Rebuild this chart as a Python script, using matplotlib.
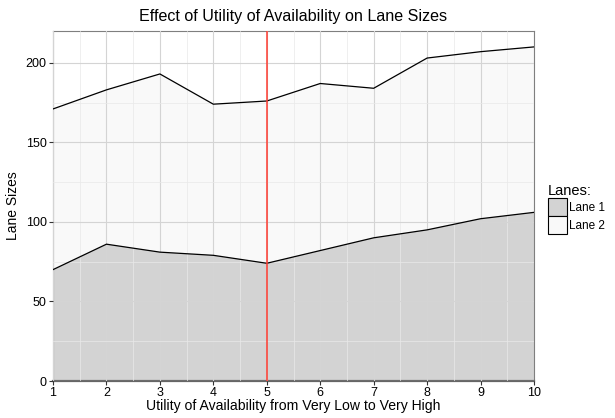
import matplotlib
matplotlib.use("Agg")
import matplotlib.pyplot as plt
from matplotlib.patches import Patch
import numpy as np

plt.rcParams['font.family'] = ['Liberation Sans', 'DejaVu Sans']

utility = [1, 2, 3, 4, 5, 6, 7, 8, 9, 10]
lane1 = [70, 86, 81, 79, 74, 82, 90, 95, 102, 106]
lane2 = [101, 97, 112, 95, 102, 105, 94, 108, 105, 104]
marker_x = 5

fig = plt.figure(figsize=(6.15, 4.18), dpi=100)
ax = fig.add_axes([53/615, 37/418, (534-53)/615, (387-37)/418])

x = np.array(utility)
l1 = np.array(lane1)
total = l1 + np.array(lane2)

ax.fill_between(x, 0, total, facecolor='#f9f9f9', edgecolor='none', zorder=1)
ax.fill_between(x, 0, l1, facecolor='#d3d3d3', edgecolor='none', zorder=1.5)
ax.plot(x, total, color='black', lw=0.9, zorder=3)
ax.plot(x, l1, color='black', lw=0.9, zorder=3)
ax.axvline(marker_x, color='#ff3b30', lw=1.1, zorder=4)

ax.set_xlim(1, 10)
ax.set_ylim(0, 220)
ax.set_xticks(utility)
ax.set_yticks([0, 50, 100, 150, 200])
ax.set_xticks(np.arange(1.5, 10, 1), minor=True)
ax.set_yticks([25, 75, 125, 175], minor=True)
ax.grid(True, which='major', color='#d4d4d4', lw=0.8, zorder=2)
ax.grid(True, which='minor', color='#e9e9e9', lw=0.5, zorder=2)
ax.set_axisbelow(False)
for a in [ax.xaxis.get_gridlines(), ax.yaxis.get_gridlines()]:
    for g in a:
        g.set_zorder(2)

for s in ax.spines.values():
    s.set_color('#7f7f7f')
    s.set_linewidth(0.8)
ax.spines['bottom'].set_linewidth(1.6)
ax.spines['bottom'].set_color('#666666')

ax.tick_params(which='major', length=3, width=0.8, color='#333333', labelsize=9, labelcolor='black', pad=1.5)
ax.tick_params(which='minor', length=0)

ax.set_title('Effect of Utility of Availability on Lane Sizes', fontsize=11.6, pad=7)
ax.set_xlabel('Utility of Availability from Very Low to Very High', fontsize=10.1, labelpad=0)
ax.set_ylabel('Lane Sizes', fontsize=10, labelpad=4)

handles = [Patch(facecolor='#d3d3d3', edgecolor='black', lw=0.8, label='Lane 1'),
           Patch(facecolor='#f9f9f9', edgecolor='black', lw=0.8, label='Lane 2')]
leg = fig.legend(handles=handles, title='Lanes:', loc='center left',
                 bbox_to_anchor=(548/615, 0.5), frameon=False, fontsize=8.5,
                 title_fontsize=10.5, handlelength=1.6, handleheight=2.0,
                 handletextpad=0.2, borderaxespad=0, labelspacing=0.0,
                 borderpad=0)
leg._legend_box.align = 'left'

fig.savefig('out.png', dpi=100)
